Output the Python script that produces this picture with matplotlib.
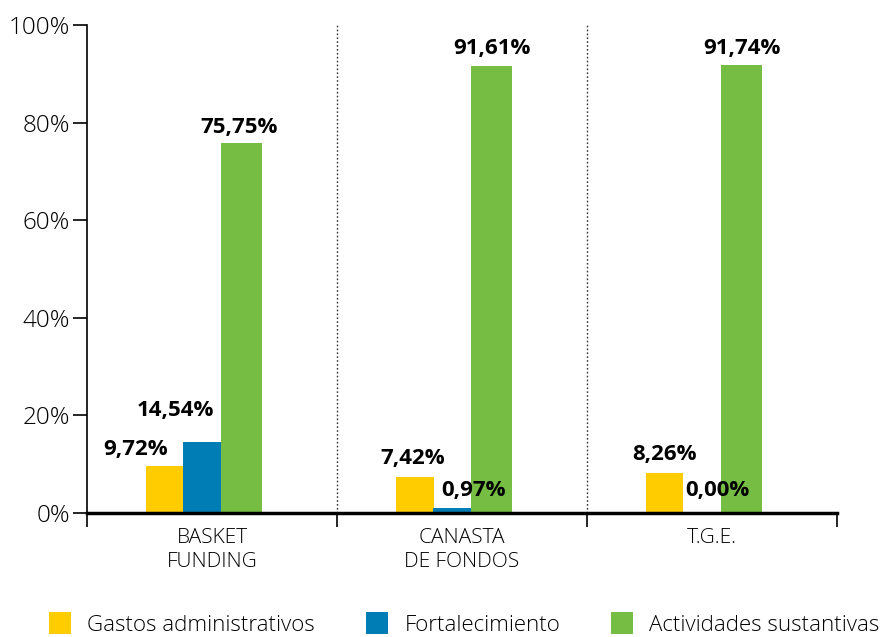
import matplotlib.pyplot as plt
from matplotlib.patches import Patch

# data
groups = ['BASKET\nFUNDING', 'CANASTA\nDE FONDOS', 'T.G.E.']
series = ['Gastos administrativos', 'Fortalecimiento', 'Actividades sustantivas']
gastos = [9.72, 7.42, 8.26]
fortalecimiento = [14.54, 0.97, 0.00]
actividades = [75.75, 91.61, 91.74]
yticks = [0, 20, 40, 60, 80, 100]

colors = ['#FFCC00', '#007DB4', '#76BE43']
plt.rcParams['font.family'] = ['Open Sans', 'DejaVu Sans']

fig = plt.figure(figsize=(8.87, 6.37), dpi=100)
ax = fig.add_axes([87/887, 124/637, 750/887, 488/637])

lefts = [0.236, 0.384, 0.535]
widths = [0.150, 0.153, 0.166]
all_vals = [gastos, fortalecimiento, actividades]
for k, vals in enumerate(all_vals):
    xs = [g + lefts[k] for g in range(len(groups))]
    ax.bar(xs, vals, width=widths[k], align='edge', color=colors[k],
           linewidth=0, antialiased=False, zorder=2)

# value labels (position tweaks, as in the original layout)
label_dx = [[-0.115, -0.105, -0.01], [-0.01, 0.085, 0.0], [0.0, 0.06, 0.0]]
label_dy = [[3.3, 6.4, 3.2], [3.7, None, 3.6], [3.7, None, 3.4]]
for g in range(len(groups)):
    for k, vals in enumerate(all_vals):
        v = vals[g]
        x = g + lefts[k] + widths[k] / 2 + label_dx[g][k]
        y = 4.7 if label_dy[g][k] is None else v + label_dy[g][k]
        ax.text(x, y, f'{v:.2f}%'.replace('.', ','), ha='center', va='center',
                fontsize=16, fontweight='bold', zorder=3)

ax.set_xlim(0, 3)
ax.set_ylim(0, 100)
ax.set_yticks(yticks)
ax.set_yticklabels([f'{t}%' for t in yticks], fontsize=17.5, fontweight='light')
ax.tick_params(axis='y', length=10, width=1.2, pad=2)
ax.set_xticks([0, 1, 2, 3])
ax.set_xticklabels([])
ax.tick_params(axis='x', length=10, width=1.2, direction='out')
for g, name in enumerate(groups):
    ax.text(g + 0.5, -3.0, name, ha='center', va='top', fontsize=15,
            fontweight='light', linespacing=1.3)

for x in [1, 2]:
    ax.axvline(x, color='#333333', linestyle=(0, (1.2, 1.6)), linewidth=1, zorder=1)

ax.spines['top'].set_visible(False)
ax.spines['right'].set_visible(False)
ax.spines['left'].set_linewidth(1.2)
ax.spines['bottom'].set_linewidth(2.5)

handles = [Patch(facecolor=c, edgecolor='none') for c in colors]
fig.legend(handles, series, loc='center left', bbox_to_anchor=(49/887, 13/637),
           ncol=3, frameon=False, handlelength=1.0, handleheight=1.1,
           handletextpad=0.72, columnspacing=2.3, borderpad=0, borderaxespad=0,
           prop={'family': ['Open Sans'], 'weight': 'light', 'size': 16})

fig.savefig('out.png', dpi=100)
